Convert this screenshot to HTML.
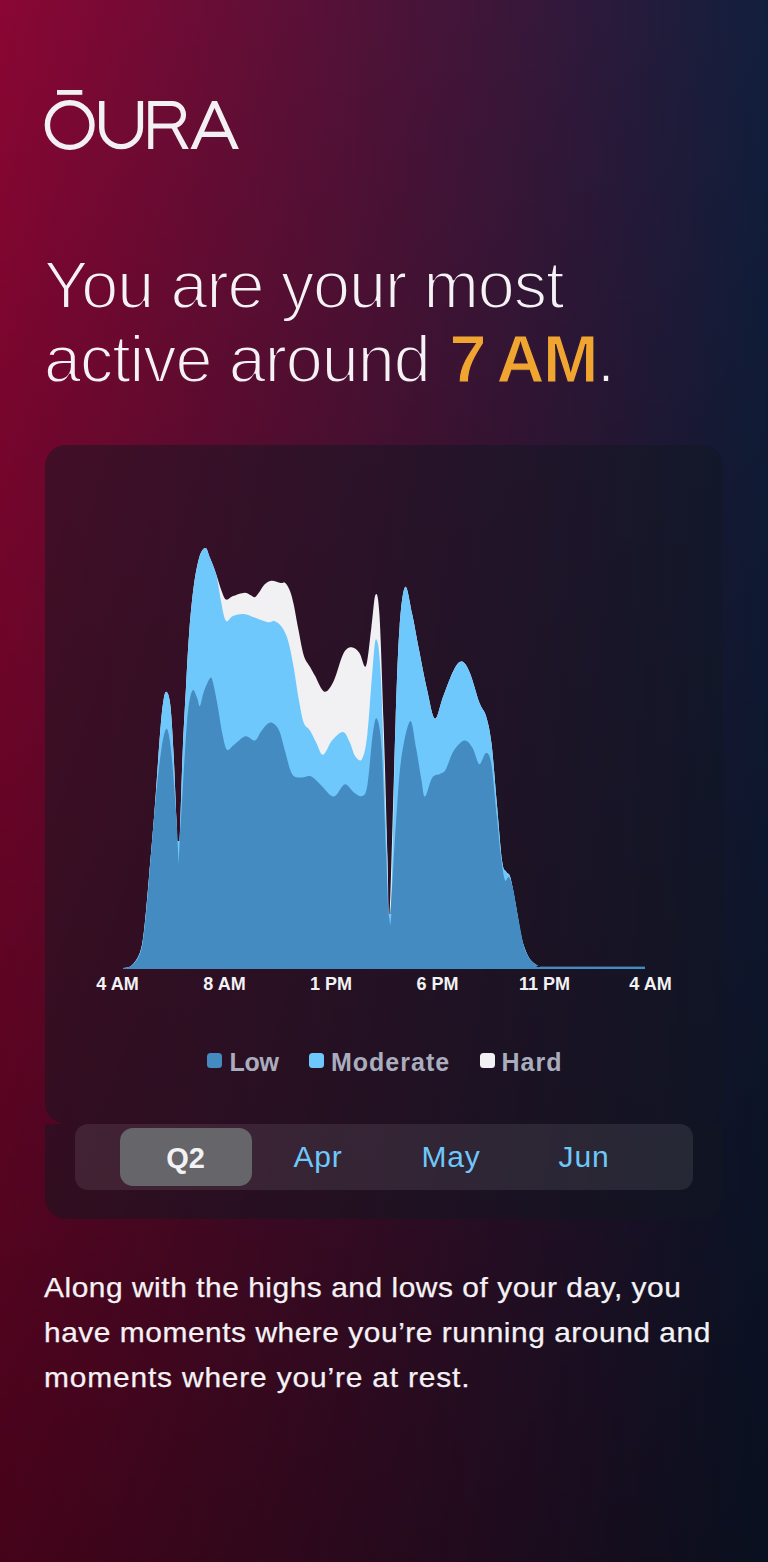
<!DOCTYPE html>
<html><head><meta charset="utf-8">
<style>
html,body{margin:0;padding:0;}
body{width:768px;height:1562px;position:relative;overflow:hidden;font-family:"Liberation Sans",sans-serif;
background:linear-gradient(to bottom,rgba(0,0,0,0) 0%,rgba(0,0,0,0.5) 100%),linear-gradient(to right,#8a0633 0%,#111f3d 100%);}
.abs{position:absolute;}
#logo{left:0;top:0;}
#title{left:44px;top:247px;font-size:62.5px;line-height:73.3px;letter-spacing:0.8px;color:#f4f2f4;white-space:nowrap;}
#title b{color:#f0a531;}
#card1{left:45px;top:445px;width:678px;height:679px;border-radius:21px 21px 21px 21px;background:rgba(16,23,34,0.48);}
#card2{left:45px;top:1124px;width:678px;height:95px;border-radius:0 0 21px 21px;background:rgba(16,23,34,0.48);}
#seg{left:75px;top:1124px;width:618px;height:66px;border-radius:13px;background:rgba(255,255,255,0.085);}
#pill{left:119.5px;top:1127.5px;width:132px;height:58.5px;border-radius:13px;background:#666569;}
.seglab{position:absolute;top:1139px;font-size:30px;line-height:36px;color:#6ec8fb;width:132px;text-align:center;letter-spacing:0.8px;}
.axl{position:absolute;top:973px;font-size:18px;line-height:22px;font-weight:bold;color:#f2f2f4;width:80px;text-align:center;}
.leg{position:absolute;top:1048px;font-size:25px;line-height:28px;font-weight:bold;color:#a9adbd;}
.sq{position:absolute;top:1053px;width:15px;height:15px;border-radius:3.5px;}
#para{left:44px;top:1266px;font-size:28px;line-height:44.8px;letter-spacing:0.5px;transform-origin:0 0;transform:scaleX(1.068);-webkit-text-stroke:0.25px #f4f2f4;color:#f4f2f4;white-space:nowrap;}
</style></head><body>
<svg class="abs" id="logo" width="300" height="200" viewBox="0 0 300 200">
<g fill="#f2f0f2">
<rect x="57" y="90" width="25.3" height="4.8"/>
<polygon points="190.5,148.9 212,100.9 217,100.9 238.9,148.9 232.7,148.9 214.5,107.9 196.7,148.9"/>
<rect x="200" y="131.7" width="29" height="5.3"/>
<polygon points="170.5,126 176.2,126 188.8,148.9 182.6,148.9"/>
</g>
<g fill="none" stroke="#f2f0f2" stroke-width="5.4">
<circle cx="69.7" cy="125.05" r="22.3"/>
<path d="M101.75,101.1 V127.7 A19.33,19.33 0 0 0 140.4,127.7 V101.1"/>
</g>
<g fill="none" stroke="#f2f0f2" stroke-width="5.1">
<path d="M150.75,148.9 V103.5 H172.25 A11.25,11.25 0 0 1 172.25,126 H150.75"/>
</g>
</svg>
<svg class="abs" style="left:0;top:0" width="768" height="420" viewBox="0 0 768 420">
<defs><linearGradient id="bgT" gradientUnits="userSpaceOnUse" x1="0" y1="0" x2="768" y2="0"><stop offset="0" stop-color="#7c052e"/><stop offset="1" stop-color="#0f1c37"/></linearGradient></defs>
<g font-family="Liberation Sans, sans-serif" font-size="66.5" fill="#f4f2f4" letter-spacing="-1.05">
<text x="44" y="308.4" stroke="url(#bgT)" stroke-width="2">You are your most</text>
<text x="44" y="382"><tspan stroke="url(#bgT)" stroke-width="2">active around </tspan><tspan fill="#f0a531" font-weight="bold" stroke="url(#bgT)" stroke-width="1.2" dx="2.5" letter-spacing="-1.65">7&#8201;AM</tspan><tspan stroke="url(#bgT)" stroke-width="2">.</tspan></text>
</g></svg>
<div class="abs" id="card1"></div>
<div class="abs" id="card2"></div>
<svg class="abs" style="left:0;top:0" width="768" height="1562" viewBox="0 0 768 1562">
<path d="M123.0,968.0 C124.5,967.6 128.9,968.0 131.7,965.4 C134.5,962.8 137.9,958.6 140.0,952.5 C142.1,946.4 142.7,941.6 144.2,929.0 C145.7,916.4 147.3,896.8 149.0,877.0 C150.7,857.2 152.7,834.2 154.6,810.0 C156.5,785.8 158.7,750.1 160.2,731.8 C161.7,713.5 162.4,707.0 163.5,700.4 C164.6,693.8 165.4,691.1 166.5,691.9 C167.6,692.6 169.1,694.5 170.3,704.9 C171.5,715.3 172.6,734.8 173.6,754.2 C174.6,773.6 175.7,803.2 176.5,821.5 C177.3,839.8 177.6,875.2 178.6,864.0 C179.6,852.8 181.4,783.7 182.6,754.2 C183.8,724.7 184.9,707.5 186.0,687.0 C187.1,666.5 188.0,647.8 189.3,631.0 C190.6,614.2 192.1,598.3 193.8,586.0 C195.5,573.7 197.5,563.3 199.4,557.0 C201.3,550.7 203.7,547.8 205.5,548.0 C207.3,548.2 208.2,553.7 210.0,558.0 C211.8,562.3 214.2,568.5 216.1,574.0 C218.0,579.5 219.8,586.4 221.5,590.7 C223.2,595.0 224.2,598.7 226.1,599.6 C228.0,600.5 229.9,597.2 233.0,596.1 C236.1,595.0 241.7,592.8 244.6,592.7 C247.5,592.6 249.0,594.5 250.7,595.3 C252.4,596.0 253.5,597.7 254.9,597.2 C256.3,596.7 257.6,594.4 259.2,592.3 C260.8,590.2 262.5,586.5 264.5,584.6 C266.5,582.7 268.7,581.0 271.4,580.7 C274.1,580.4 278.4,582.6 280.7,583.0 C283.0,583.4 283.8,581.7 285.3,583.0 C286.8,584.3 288.5,587.1 289.9,590.7 C291.3,594.3 292.3,598.1 293.7,604.5 C295.1,610.9 296.6,620.6 298.3,629.1 C300.0,637.6 301.8,648.9 303.7,655.2 C305.6,661.5 308.1,663.4 310.0,666.8 C311.9,670.2 312.5,671.5 314.9,675.6 C317.3,679.8 321.2,690.8 324.3,691.7 C327.4,692.6 330.6,687.3 333.7,681.0 C336.8,674.7 340.3,659.6 343.2,654.0 C346.1,648.4 348.5,647.5 351.2,647.3 C353.9,647.1 356.8,649.6 359.3,652.7 C361.8,655.8 364.0,670.2 366.0,666.0 C368.0,661.8 369.8,639.0 371.4,627.2 C373.0,615.4 374.1,597.2 375.4,595.0 C376.7,592.8 378.0,592.7 379.4,613.7 C380.8,634.7 382.1,680.7 383.5,721.0 C384.9,761.3 386.5,822.9 387.5,855.6 C388.5,888.3 388.2,939.8 389.6,917.4 C391.0,895.0 393.9,769.4 395.6,721.0 C397.3,672.6 398.0,649.3 399.6,627.0 C401.2,604.7 403.1,589.2 405.2,587.0 C407.3,584.8 409.8,603.4 412.1,613.7 C414.4,624.0 416.3,636.2 418.8,648.7 C421.3,661.2 424.2,677.4 426.9,689.0 C429.6,700.6 432.2,717.3 434.9,718.6 C437.6,719.9 439.9,705.1 443.0,697.0 C446.1,688.9 450.6,676.1 453.7,670.2 C456.8,664.3 459.1,661.2 461.8,661.6 C464.5,662.0 467.0,666.1 469.9,672.9 C472.8,679.7 476.6,695.2 479.3,702.4 C482.0,709.6 484.0,709.2 486.0,715.9 C488.0,722.6 489.6,728.4 491.4,742.7 C493.2,757.0 494.9,782.2 496.7,801.9 C498.5,821.6 500.5,849.4 502.1,861.0 C503.7,872.6 504.9,869.0 506.2,871.7 C507.5,874.4 508.6,871.7 510.2,877.1 C511.8,882.5 513.9,894.7 515.6,904.0 C517.3,913.3 519.3,926.2 520.6,933.0 C521.9,939.8 522.5,941.3 523.6,945.0 C524.8,948.7 526.1,952.2 527.5,955.0 C528.9,957.8 530.3,959.8 532.0,961.5 C533.7,963.2 535.7,964.6 537.5,965.5 C539.3,966.4 525.1,966.8 543.0,967.0 C560.9,967.2 628.0,967.0 645.0,967.0 L645.0,969.0 L123.0,969.0 Z" fill="#f1f1f3"/>
<path d="M123.0,968.0 C124.5,967.6 128.9,968.0 131.7,965.4 C134.5,962.8 137.9,958.6 140.0,952.5 C142.1,946.4 142.7,941.6 144.2,929.0 C145.7,916.4 147.3,896.8 149.0,877.0 C150.7,857.2 152.7,834.2 154.6,810.0 C156.5,785.8 158.7,750.1 160.2,731.8 C161.7,713.5 162.4,707.0 163.5,700.4 C164.6,693.8 165.4,691.1 166.5,691.9 C167.6,692.6 169.1,694.5 170.3,704.9 C171.5,715.3 172.6,734.8 173.6,754.2 C174.6,773.6 175.7,803.2 176.5,821.5 C177.3,839.8 177.6,875.2 178.6,864.0 C179.6,852.8 181.4,783.7 182.6,754.2 C183.8,724.7 184.9,707.5 186.0,687.0 C187.1,666.5 188.0,647.8 189.3,631.0 C190.6,614.2 192.1,598.3 193.8,586.0 C195.5,573.7 197.5,563.3 199.4,557.0 C201.3,550.7 203.7,547.8 205.5,548.0 C207.3,548.2 208.2,553.7 210.0,558.0 C211.8,562.3 214.3,567.0 216.1,574.0 C217.9,581.0 219.5,593.1 220.8,600.0 C222.1,606.9 222.8,611.7 223.8,615.3 C224.8,618.9 225.4,621.3 226.9,621.4 C228.4,621.5 230.2,617.3 233.0,616.1 C235.8,614.9 240.2,613.9 243.8,614.1 C247.4,614.4 250.5,616.2 254.5,617.6 C258.5,619.0 264.3,621.6 267.6,622.2 C270.9,622.8 272.1,620.2 274.5,621.1 C276.9,622.0 279.9,624.2 282.2,627.6 C284.5,631.0 286.4,634.8 288.3,641.4 C290.2,648.0 291.9,657.5 293.7,667.5 C295.5,677.5 297.4,692.1 299.1,701.3 C300.8,710.5 301.9,717.9 303.7,722.8 C305.5,727.7 307.9,727.2 310.0,730.5 C312.1,733.8 314.1,738.7 316.3,742.7 C318.5,746.8 320.3,755.2 323.0,754.8 C325.7,754.3 329.0,743.8 332.4,740.0 C335.8,736.2 340.3,731.5 343.2,732.0 C346.1,732.5 347.9,738.7 349.9,742.7 C351.9,746.7 353.2,753.5 355.2,756.2 C357.2,758.9 360.0,762.5 362.0,758.9 C364.0,755.3 365.5,749.9 367.3,734.7 C369.1,719.5 371.2,683.4 372.7,667.5 C374.2,651.6 374.8,637.9 376.2,639.3 C377.6,640.6 379.1,644.0 380.8,675.6 C382.5,707.2 384.6,787.1 386.2,828.7 C387.8,870.4 388.6,943.5 390.2,925.5 C391.8,907.5 394.0,770.8 395.6,721.0 C397.2,671.2 398.0,649.3 399.6,627.0 C401.2,604.7 403.1,589.2 405.2,587.0 C407.3,584.8 409.8,603.4 412.1,613.7 C414.4,624.0 416.3,636.2 418.8,648.7 C421.3,661.2 424.2,677.4 426.9,689.0 C429.6,700.6 432.2,717.3 434.9,718.6 C437.6,719.9 439.9,705.1 443.0,697.0 C446.1,688.9 450.6,676.1 453.7,670.2 C456.8,664.3 459.1,661.2 461.8,661.6 C464.5,662.0 467.0,666.1 469.9,672.9 C472.8,679.7 476.6,695.2 479.3,702.4 C482.0,709.6 484.0,709.2 486.0,715.9 C488.0,722.6 489.6,728.4 491.4,742.7 C493.2,757.0 494.9,782.2 496.7,801.9 C498.5,821.6 500.5,849.4 502.1,861.0 C503.7,872.6 504.9,869.0 506.2,871.7 C507.5,874.4 508.6,871.7 510.2,877.1 C511.8,882.5 513.9,894.7 515.6,904.0 C517.3,913.3 519.3,926.2 520.6,933.0 C521.9,939.8 522.5,941.3 523.6,945.0 C524.8,948.7 526.1,952.2 527.5,955.0 C528.9,957.8 530.3,959.8 532.0,961.5 C533.7,963.2 535.7,964.6 537.5,965.5 C539.3,966.4 525.1,966.8 543.0,967.0 C560.9,967.2 628.0,967.0 645.0,967.0 L645.0,969.0 L123.0,969.0 Z" fill="#6fc8fc"/>
<path d="M123.0,968.0 C124.5,967.6 128.9,967.9 131.7,965.6 C134.5,963.3 137.9,959.8 140.0,954.0 C142.1,948.2 142.7,943.3 144.2,931.0 C145.7,918.7 147.1,902.0 149.0,880.0 C150.9,858.0 153.6,820.7 155.7,799.0 C157.8,777.3 159.6,761.3 161.3,749.7 C163.0,738.1 164.5,731.8 165.8,729.6 C167.1,727.4 168.0,730.3 169.1,736.3 C170.2,742.3 171.4,753.1 172.5,765.4 C173.6,777.7 174.9,797.2 175.9,810.3 C176.9,823.4 177.7,843.9 178.6,843.9 C179.5,843.9 180.5,825.2 181.5,810.3 C182.5,795.3 183.7,771.0 184.8,754.2 C185.9,737.4 186.9,720.0 188.2,709.4 C189.5,698.8 191.2,692.2 192.7,690.3 C194.2,688.4 196.0,695.6 197.2,698.2 C198.4,700.8 198.8,707.1 199.9,706.0 C201.0,704.9 202.2,696.1 203.9,691.4 C205.6,686.7 208.7,679.4 210.2,678.0 C211.7,676.6 211.8,678.2 213.1,682.9 C214.3,687.5 216.2,697.4 217.7,705.9 C219.2,714.4 220.8,726.3 222.3,733.6 C223.8,740.9 225.0,747.8 226.9,749.7 C228.8,751.6 230.7,747.3 233.8,745.1 C236.9,742.9 241.8,737.1 245.3,736.3 C248.8,735.5 252.3,741.2 254.9,740.5 C257.5,739.8 258.7,734.7 260.7,732.0 C262.7,729.3 264.9,725.9 266.8,724.4 C268.7,722.9 270.1,721.8 272.2,722.8 C274.2,723.8 276.9,725.6 279.1,730.5 C281.3,735.4 283.5,745.6 285.3,752.0 C287.1,758.4 288.4,764.8 289.9,768.9 C291.4,773.0 292.4,775.2 294.5,776.6 C296.6,778.0 299.5,777.5 302.2,777.4 C304.9,777.3 307.9,775.1 310.9,776.3 C313.9,777.5 316.5,781.0 320.3,784.4 C324.1,787.8 329.7,796.5 333.7,796.5 C337.7,796.5 341.1,785.1 344.5,784.4 C347.9,783.7 351.0,790.6 353.9,792.5 C356.8,794.4 359.8,797.1 362.0,796.0 C364.2,794.9 365.5,795.9 367.3,785.7 C369.1,775.5 371.1,745.9 372.7,734.7 C374.3,723.5 375.2,716.4 376.7,718.6 C378.2,720.8 380.0,725.2 381.6,748.0 C383.2,770.8 384.9,827.4 386.2,855.6 C387.5,883.8 388.0,921.9 389.6,917.4 C391.2,912.9 393.7,854.7 395.6,828.7 C397.5,802.7 398.5,779.5 400.9,761.6 C403.3,743.7 407.5,723.5 410.0,721.2 C412.5,719.0 414.2,738.2 416.1,748.1 C418.0,758.0 420.0,772.3 421.5,780.4 C423.0,788.5 423.2,797.0 425.0,796.5 C426.8,796.0 429.6,781.5 432.2,777.7 C434.8,773.9 438.1,775.1 440.3,773.7 C442.6,772.4 443.5,773.4 445.7,769.6 C447.9,765.8 450.6,755.6 453.7,750.8 C456.8,746.0 461.4,741.0 464.5,740.6 C467.6,740.2 470.1,744.2 472.6,748.1 C475.1,752.0 477.1,763.4 479.3,764.2 C481.5,765.0 484.0,753.0 486.0,753.0 C488.0,753.0 489.6,753.8 491.4,764.2 C493.2,774.6 495.1,800.1 496.7,815.3 C498.3,830.5 499.4,844.9 500.8,855.6 C502.2,866.4 503.5,876.2 504.8,879.8 C506.1,883.4 507.5,875.8 508.8,877.1 C510.1,878.5 511.3,881.2 512.9,887.9 C514.5,894.6 516.4,907.9 518.2,917.4 C520.0,926.9 522.1,938.7 523.6,945.0 C525.1,951.3 526.1,952.2 527.5,955.0 C528.9,957.8 530.3,959.8 532.0,961.5 C533.7,963.2 535.7,964.6 537.5,965.5 C539.3,966.4 525.1,966.8 543.0,967.0 C560.9,967.2 628.0,967.0 645.0,967.0 L645.0,969.0 L123.0,969.0 Z" fill="#448bc2"/>
<rect x="540" y="966.6" width="105" height="2.4" fill="#448bc2"/>
<path d="M177.5,841 L178.6,864 L179.7,841 Z" fill="#6fc8fc"/>
<path d="M388.9,914 L390.2,926 L391.4,914 Z" fill="#6fc8fc"/>
</svg>
<div class="axl" style="left:77.5px">4 AM</div>
<div class="axl" style="left:184.5px">8 AM</div>
<div class="axl" style="left:291px">1 PM</div>
<div class="axl" style="left:397.5px">6 PM</div>
<div class="axl" style="left:504.5px">11 PM</div>
<div class="axl" style="left:610.5px">4 AM</div>
<div class="sq" style="left:207px;background:#448bc2"></div>
<div class="leg" style="left:229.5px;letter-spacing:-0.3px">Low</div>
<div class="sq" style="left:309px;background:#6fc8fc"></div>
<div class="leg" style="left:331px;letter-spacing:1px">Moderate</div>
<div class="sq" style="left:479.5px;background:#f1f1f3"></div>
<div class="leg" style="left:501.5px;letter-spacing:1px">Hard</div>
<div class="abs" id="seg"></div>
<div class="abs" id="pill"></div>
<div class="seglab" style="left:119.5px;top:1140px;font-size:29px;letter-spacing:0;color:#f2f2f4;font-weight:bold">Q2</div>
<div class="seglab" style="left:252px">Apr</div>
<div class="seglab" style="left:385px">May</div>
<div class="seglab" style="left:518px">Jun</div>
<div class="abs" id="para">Along with the highs and lows of your day, you<br>have moments where you’re running around and<br><span style="letter-spacing:0.78px">moments where you’re at rest.</span></div>
</body></html>
